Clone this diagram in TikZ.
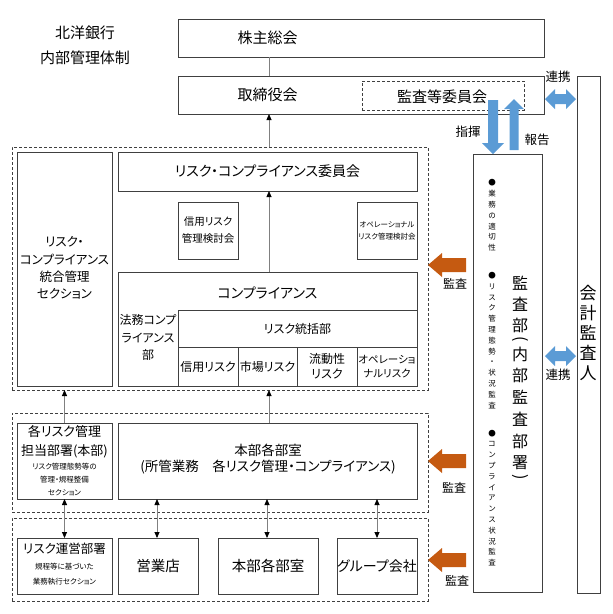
\documentclass[tikz,border=0pt]{standalone}
\usepackage{fontspec}
\usepackage{graphicx}
\setmainfont{Noto Sans CJK JP}[RawFeature={+palt}]
\usetikzlibrary{arrows.meta,calc}
\definecolor{bord}{HTML}{404040}
\definecolor{conn}{HTML}{808080}
\definecolor{blu}{HTML}{5B9BD5}
\definecolor{ora}{HTML}{C55A11}
\tikzset{blk/.tip={Triangle[length=6pt,width=5pt,color=black]}}
\begin{document}
\begin{tikzpicture}[x=1pt,y=-1pt,
  box/.style={draw=bord,line width=0.8pt,inner sep=0pt,outer sep=0pt,align=center},
  dbox/.style={draw=bord,line width=0.8pt,dash pattern=on 3pt off 2pt,inner sep=0pt,outer sep=0pt},
  txt/.style={inner sep=0pt,outer sep=0pt,align=center,text=black},
  fs/.style 2 args={font=\fontsize{#1}{#2}\selectfont},
  conline/.style={draw=conn,line width=0.8pt},
  fatb/.style={fill=blu},
  fato/.style={fill=ora}]
\useasboundingbox (0,0) rectangle (613,614);

% title
\node[txt,fs={15}{18}] (title1) at (85,33) {北洋銀行};
\node[txt,fs={15}{18}] (title2) at (85,58) {内部管理体制};

% top boxes
\node[box,minimum width=366,minimum height=38] (kabu) at (361,38) {};
\node[txt,fs={15}{18}] (kabut) at (267.5,38) {株主総会};
\node[box,minimum width=366,minimum height=38] (tori) at (361,95) {};
\node[txt,fs={15}{18}] (torit) at (267.5,95) {取締役会};
\node[dbox,minimum width=162,minimum height=29] (kansatou) at (443,95.5) {};
\node[txt,fs={15}{18}] (kansatout) at (442,97) {監査等委員会};

% group 1
\node[dbox,minimum width=416,minimum height=243] (outer1) at (220,268.5) {};
\node[box,minimum width=95,minimum height=234] (leftsec) at (64.5,269) {};
\node[txt,fs={12.5}{17.3}] (leftsect) at (64.5,268) {リスク・\\コンプライアンス\\統合管理\\セクション};
\node[box,minimum width=299,minimum height=39,fs={14}{18}] (iinkai) at (267.5,171.5) {リスク・コンプライアンス委員会};
\node[box,minimum width=60,minimum height=57,fs={10.5}{17}] (shinkentou) at (208,230.5) {信用リスク\\管理検討会};
\node[box,minimum width=60,minimum height=57,fs={7.5}{12}] (opkentou) at (387,230.5) {オペレーショナル\\リスク管理検討会};
\node[box,minimum width=299,minimum height=114] (comp) at (267.5,329) {};
\node[txt,fs={14}{18}] (compt) at (267.5,293) {コンプライアンス};
\node[txt,fs={12}{17.5}] (houmu) at (148,337.5) {法務コンプ\\ライアンス\\部};
\node[box,minimum width=239,minimum height=37,fs={12}{15}] (toukatsu) at (297.5,328.5) {リスク統括部};
\node[box,minimum width=60,minimum height=39,fs={12}{15}] (s1) at (208,366.5) {信用リスク};
\node[box,minimum width=59,minimum height=39,fs={12}{15}] (s2) at (267.5,366.5) {市場リスク};
\node[box,minimum width=60,minimum height=39,fs={12}{15}] (s3) at (327,366.5) {流動性\\リスク};
\node[box,minimum width=60,minimum height=39,fs={10.5}{14.5}] (s4) at (387,366.5) {オペレーショ\\ナルリスク};

% group 2
\node[dbox,minimum width=416,minimum height=99] (outer2) at (220,462.5) {};
\node[box,minimum width=95,minimum height=76] (kakurisk) at (64.5,461) {};
\node[txt,fs={13}{19}] (kakuriskt) at (64.5,441.5) {各リスク管理\\担当部署(本部)};
\node[txt,fs={7.5}{13}] (kakurisks) at (64.5,480) {リスク管理態勢等の\\管理・規程整備\\セクション};
\node[box,minimum width=299,minimum height=76] (honbu) at (267.5,461) {};
\node[txt,fs={13.5}{16.5}] (honbut) at (268,459) {本部各部室\\(所管業務　各リスク管理・コンプライアンス)};

% group 3
\node[dbox,minimum width=416,minimum height=83] (outer3) at (220,559.5) {};
\node[box,minimum width=95,minimum height=56] (riskunei) at (64.5,566) {};
\node[txt,fs={12.5}{16}] (riskuneit) at (64.5,549) {リスク運営部署};
\node[txt,fs={7.5}{15}] (riskuneis) at (64.5,574.5) {規程等に基づいた\\業務執行セクション};
\node[box,minimum width=80,minimum height=56,fs={14.5}{18}] (eigyo) at (158,566) {営業店};
\node[box,minimum width=100,minimum height=56,fs={14.5}{18}] (honbu2) at (268,566) {本部各部室};
\node[box,minimum width=80,minimum height=56,fs={14}{18}] (group) at (377,566) {グループ会社};

% audit dept
\node[box,minimum width=69,minimum height=438] (kansa) at (507.5,373) {};
\node[txt,fs={7.5}{10.8}] (ks1) at (492,215.5) {●\\業\\務\\の\\適\\切\\性};
\node[txt,fs={7.5}{10.8}] (ks2) at (492,340.5) {●\\リ\\ス\\ク\\管\\理\\態\\勢\\・\\状\\況\\監\\査};
\node[txt,fs={7.5}{10.8}] (ks3) at (492,498) {●\\コ\\ン\\プ\\ラ\\イ\\ア\\ン\\ス\\状\\況\\監\\査};
\foreach \c/\yy [count=\i] in {監/283,査/304,部/325,{\rotatebox[origin=c]{-90}{(}}/340,内/354,部/375,監/397,査/419,部/441,署/463,{\rotatebox[origin=c]{-90}{)}}/478}
  \node[txt,fs={16}{18}] (kb\i) at (520,\yy) {\c};

% external auditor
\node[box,minimum width=23,minimum height=517] (kaikei) at (588.5,334.5) {};
\node[txt,fs={17}{20}] (kaikeit) at (588,333) {会\\計\\監\\査\\人};

% connectors
\coordinate (xa) at (269,0);
\coordinate (xb) at (157,0);
\coordinate (xc) at (267,0);
\coordinate (xd) at (377,0);
\draw[conline] (kabu.south -| xa) -- (tori.north -| xa);
\draw[conline,-blk] (outer1.north -| xa) -- (tori.south -| xa);
\draw[conline,-blk] (comp.north -| xa) -- (iinkai.south -| xa);
\draw[conline,-blk] (kakurisk.north) -- (outer1.south -| kakurisk.north);
\draw[conline,-blk] (honbu.north -| xa) -- (outer1.south -| xa);
\draw[conline,blk-blk] (kakurisk.south) -- (riskunei.north);
\draw[conline,blk-blk] (honbu.south -| xb) -- (eigyo.north -| xb);
\draw[conline,blk-blk] (honbu.south -| xc) -- (honbu2.north -| xc);
\draw[conline,blk-blk] (honbu.south -| xd) -- (group.north -| xd);

% blue arrows
\fill[fatb] (488,100) -- (498,100) -- (498,143) -- (504,143) -- (493,154) -- (482,143) -- (488,143) -- cycle;
\fill[fatb] (509.5,150) -- (518.5,150) -- (518.5,109) -- (524,109) -- (514,99) -- (504,109) -- (509.5,109) -- cycle;
\node[txt,fs={12.5}{15}] (shiki) at (468,132) {指揮};
\node[txt,fs={12.5}{15}] (houkoku) at (537,140) {報告};
\fill[fatb] (545,99) -- (555,89) -- (555,94) -- (566,94) -- (566,89) -- (576,99) -- (566,109) -- (566,104) -- (555,104) -- (555,109) -- cycle;
\node[txt,fs={12.5}{15}] (renkei1) at (558,77) {連携};
\fill[fatb] (545,356) -- (555,346) -- (555,351) -- (566,351) -- (566,346) -- (576,356) -- (566,366) -- (566,361) -- (555,361) -- (555,366) -- cycle;
\node[txt,fs={12.5}{15}] (renkei2) at (558,375) {連携};

% orange arrows
\foreach \yy/\ly/\lx [count=\i] in {265/284/455,461/488/454,560/581/457}{
  \fill[fato] (428,\yy) -- (442,\yy-12) -- (442,\yy-7) -- (466,\yy-7) -- (466,\yy+7) -- (442,\yy+7) -- (442,\yy+12) -- cycle;
  \node[txt,fs={12}{15}] (kansal\i) at (\lx,\ly) {監査};
}
\end{tikzpicture}
\end{document}
